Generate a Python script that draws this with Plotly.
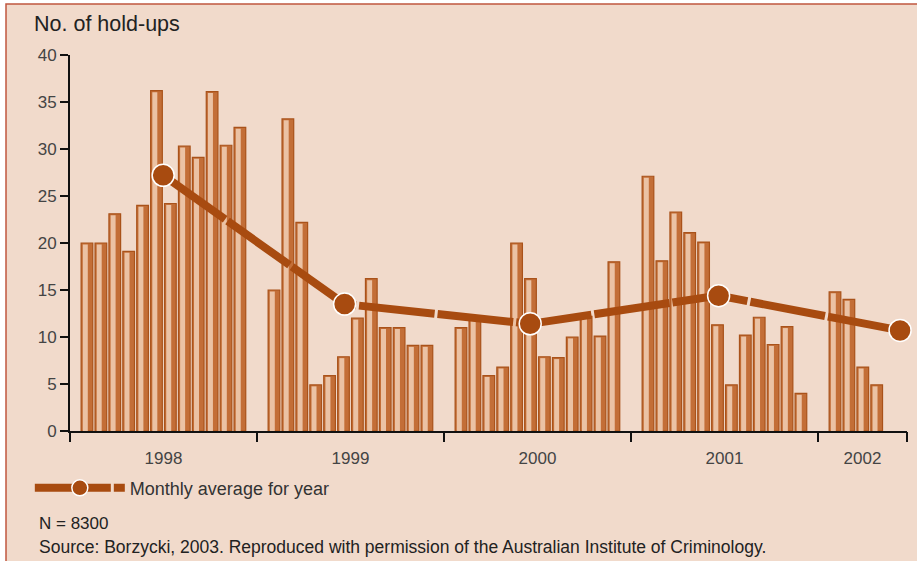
import plotly.graph_objects as go

# ---------------- data ----------------
years = ["1998", "1999", "2000", "2001", "2002"]
holdups_1998 = [20.0, 20.0, 23.1, 19.1, 24.0, 36.2, 24.2, 30.3, 29.1, 36.1, 30.4, 32.3]
holdups_1999 = [15.0, 33.2, 22.2, 4.9, 5.9, 7.9, 12.0, 16.2, 11.0, 11.0, 9.1, 9.1]
holdups_2000 = [11.0, 12.0, 5.9, 6.8, 20.0, 16.2, 7.9, 7.8, 10.0, 12.2, 10.1, 18.0]
holdups_2001 = [27.1, 18.1, 23.3, 21.1, 20.1, 11.3, 4.9, 10.2, 12.1, 9.2, 11.1, 4.0]
holdups_2002 = [14.8, 14.0, 6.8, 4.9]
avg_values = [27.2, 13.5, 11.4, 14.4, 10.7]          # monthly average for year
avg_month_pos = [6.7, 6.3, 6.2, 6.3, 5.9]            # position of average point within year (months)
y_ticks = [0, 5, 10, 15, 20, 25, 30, 35, 40]

# ---------------- layout constants ----------------
YEAR_SPAN = 13.45   # month-slots per year block (12 + padding)
PAD = 0.72
LAST_SPAN = 6.4
x_max = YEAR_SPAN * 4 + LAST_SPAN

series = [holdups_1998, holdups_1999, holdups_2000, holdups_2001, holdups_2002]
bar_x, bar_y = [], []
for yi, vals in enumerate(series):
    for m, v in enumerate(vals):
        bar_x.append(yi * YEAR_SPAN + PAD + m + 0.5)
        bar_y.append(v)

boundaries = [yi * YEAR_SPAN for yi in range(5)] + [x_max]
year_mid = [(boundaries[i] + boundaries[i + 1]) / 2 for i in range(5)]
avg_x = [yi * YEAR_SPAN + p for yi, p in enumerate(avg_month_pos)]

BROWN = "#A84B10"
FONT = "Liberation Sans, Arial, Helvetica, sans-serif"

fig = go.Figure()
# outer bar (copper)
fig.add_trace(go.Bar(
    x=bar_x, y=bar_y, width=0.84,
    marker=dict(color="#C36E37", line=dict(color="#A9521A", width=1.2)),
    showlegend=False, hoverinfo="skip"))
# highlight for cylindrical look
fig.add_trace(go.Bar(
    x=bar_x, y=[v - 0.15 for v in bar_y], width=0.36, offset=-0.3,
    marker=dict(color="#EBC2A4", line=dict(width=0)),
    showlegend=False, hoverinfo="skip"))
# average line
fig.add_trace(go.Scatter(
    x=avg_x, y=avg_values, mode="lines+markers",
    name="Monthly average for year",
    line=dict(color=BROWN, width=8, dash="76px,3px"),
    marker=dict(size=22, color=BROWN, line=dict(color="white", width=1.5)),
    cliponaxis=False, hoverinfo="skip"))
# dummy trace for boundary tick axis
fig.add_trace(go.Scatter(
    x=[0], y=[0], xaxis="x2", mode="markers", marker=dict(opacity=0),
    showlegend=False, hoverinfo="skip"))

fig.update_layout(
    width=917, height=561,
    margin=dict(l=70, r=10, t=55, b=130, autoexpand=False),
    paper_bgcolor="white",
    plot_bgcolor="rgba(0,0,0,0)",
    barmode="overlay",
    font=dict(family=FONT, color="#333333"),
    xaxis=dict(
        range=[0, x_max], tickvals=year_mid, ticktext=years,
        ticks="outside", ticklen=11, tickcolor="rgba(0,0,0,0)",
        showline=True, linecolor="#111111", linewidth=2,
        showgrid=False, zeroline=False, automargin=False,
        tickfont=dict(size=17, color="#444444", family=FONT),
    ),
    xaxis2=dict(
        overlaying="x", side="bottom", range=[0, x_max],
        tickvals=boundaries, ticks="outside", ticklen=10, tickwidth=2,
        tickcolor="#111111", showticklabels=False, automargin=False,
        showline=False, showgrid=False, zeroline=False,
    ),
    yaxis=dict(
        range=[0, 40], tickvals=y_ticks,
        ticks="outside", ticklen=8, tickwidth=2, tickcolor="#111111",
        showline=True, linecolor="#111111", linewidth=2,
        showgrid=False, zeroline=False, automargin=False,
        tickfont=dict(size=17, color="#444444", family=FONT),
    ),
    showlegend=True,
    legend=dict(
        x=-0.048, y=-0.152, xanchor="left", yanchor="middle",
        orientation="h", bgcolor="rgba(0,0,0,0)",
        font=dict(size=18, color="#333333", family=FONT),
        itemwidth=90,
    ),
    shapes=[dict(
        type="rect", xref="paper", yref="paper", layer="below",
        x0=(6 - 70) / 837, x1=(930 - 70) / 837,
        y0=(431 - 580) / 376, y1=(431 - 4) / 376,
        fillcolor="#F1DACB", line=dict(color="#C0573F", width=1.5),
    )],
    annotations=[
        dict(text="No. of hold-ups", xref="paper", yref="paper",
             x=(32 - 70) / 837, y=(431 - 24) / 376, xanchor="left", yanchor="middle",
             showarrow=False, font=dict(size=21.5, color="#222222", family=FONT)),
        dict(text="N = 8300", xref="paper", yref="paper",
             x=(37 - 70) / 837, y=(431 - 523) / 376, xanchor="left", yanchor="middle",
             showarrow=False, font=dict(size=17, color="#222222", family=FONT)),
        dict(text="Source: Borzycki, 2003. Reproduced with permission of the Australian Institute of Criminology.",
             xref="paper", yref="paper",
             x=(37 - 70) / 837, y=(431 - 547) / 376, xanchor="left", yanchor="middle",
             showarrow=False, font=dict(size=17.5, color="#222222", family=FONT)),
    ],
)

fig.write_html(
    "out.html",
    config={"displayModeBar": False},
    post_script="document.body.style.margin='0';document.body.style.overflow='hidden';",
)
